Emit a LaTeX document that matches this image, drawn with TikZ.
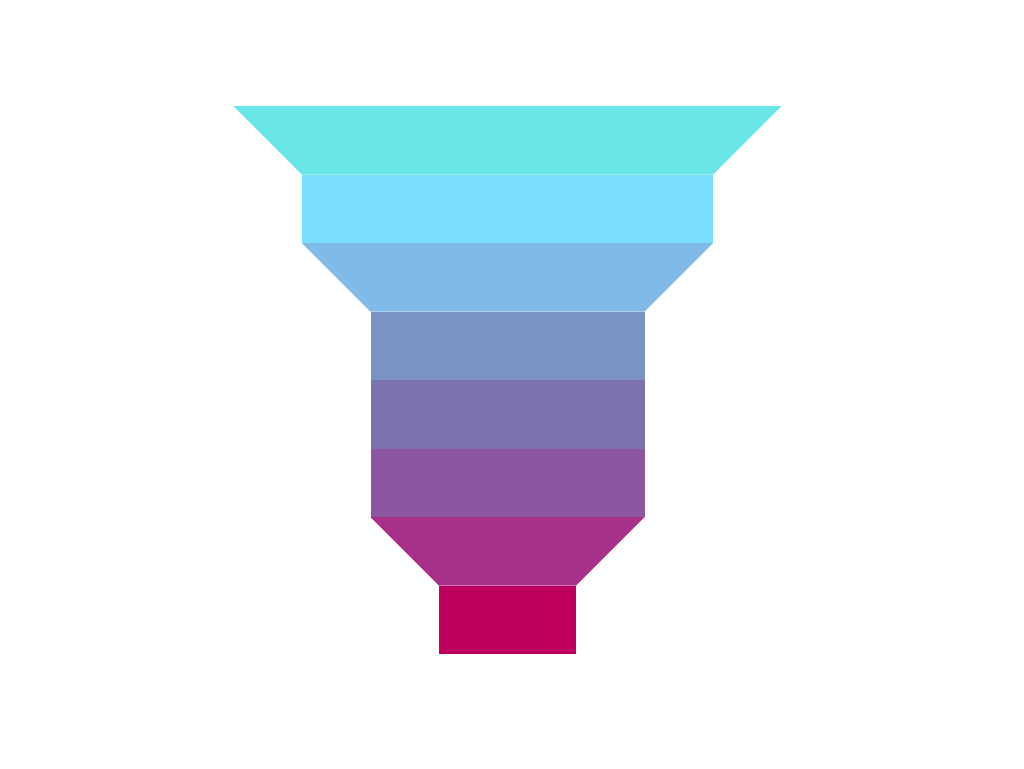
\documentclass[tikz,border=0pt]{standalone}
\usepackage{tikz}
\definecolor{layerA}{HTML}{6AE6E8}
\definecolor{layerB}{HTML}{7ADFFF}
\definecolor{layerC}{HTML}{80BAE8}
\definecolor{layerD}{HTML}{7B92C4}
\definecolor{layerE}{HTML}{7C72AE}
\definecolor{layerF}{HTML}{8C56A0}
\definecolor{layerG}{HTML}{A83088}
\definecolor{layerH}{HTML}{BD005E}
\def\raster{68.5}
\def\midx{507.5}
\def\topy{106}
\begin{document}
\begin{tikzpicture}[x=0.5pt, y=-0.5pt]
    \useasboundingbox[fill=white] (0,0) rectangle (1024,768);

    % funnel layers: index / top half width / bottom half width / colour
    \foreach \i/\wt/\wb/\co in {
        0/4/3/layerA,
        1/3/3/layerB,
        2/3/2/layerC,
        3/2/2/layerD,
        4/2/2/layerE,
        5/2/2/layerF,
        6/2/1/layerG,
        7/1/1/layerH}
    {
        \fill[\co]
            (\midx - \wt * \raster, \topy + \i * \raster) --
            (\midx + \wt * \raster, \topy + \i * \raster) --
            (\midx + \wb * \raster, \topy + \i * \raster + \raster) --
            (\midx - \wb * \raster, \topy + \i * \raster + \raster) -- cycle;
    }
\end{tikzpicture}
\end{document}
